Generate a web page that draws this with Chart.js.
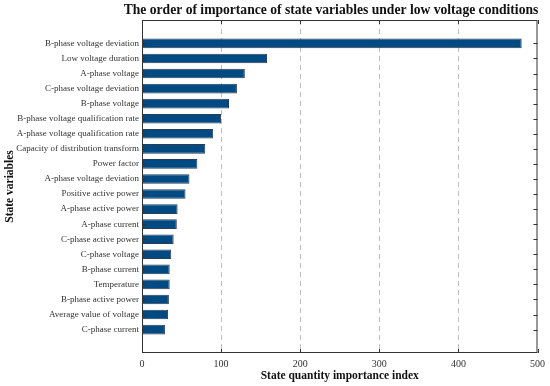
<!DOCTYPE html>
<html>
<head>
<meta charset="utf-8">
<script src="https://cdn.jsdelivr.net/npm/chart.js@4/dist/chart.umd.min.js"></script>
<style>
  html, body { margin: 0; padding: 0; background: #fff; }
  #wrap { width: 550px; height: 386px; }
</style>
</head>
<body>
<div id="wrap"><canvas id="chart" width="550" height="386"></canvas></div>
<script>
// state variables, top to bottom
const variables = [
    "B-phase voltage deviation",
    "Low voltage duration",
    "A-phase voltage",
    "C-phase voltage deviation",
    "B-phase voltage",
    "B-phase voltage qualification rate",
    "A-phase voltage qualification rate",
    "Capacity of distribution transform",
    "Power factor",
    "A-phase voltage deviation",
    "Positive active power",
    "A-phase active power",
    "A-phase current",
    "C-phase active power",
    "C-phase voltage",
    "B-phase current",
    "Temperature",
    "B-phase active power",
    "Average value of voltage",
    "C-phase current"
]
const importance = [480, 158, 130, 120, 110, 100, 90, 80, 70, 60, 55, 45, 44, 40, 37, 35, 35, 34, 33, 29]
const xTicks = [0, 100, 200, 300, 400, 500]

const serif = "'Liberation Serif', 'DejaVu Serif', serif"

// position 1..n on a linear axis so there is a full slot of room at both ends
const points = importance.map((v, i) => ({ x: v, y: i + 1 }))

// box round the plot, with small inward ticks (matlab look)
const boxPlugin = {
    id: 'box',
    afterDraw(chart) {
        const { ctx, chartArea: a, scales } = chart
        ctx.save()
        ctx.strokeStyle = '#333'
        ctx.lineWidth = 1
        ctx.strokeRect(a.left + 0.5, a.top + 0.5, a.right - a.left - 1, a.bottom - a.top - 1)
        ctx.beginPath()
        for (let i = 1; i <= variables.length; i++) {
            const y = Math.round(scales.y.getPixelForValue(i)) + 0.5
            ctx.moveTo(a.left, y); ctx.lineTo(a.left + 4, y)
            ctx.moveTo(a.right, y); ctx.lineTo(a.right - 4, y)
        }
        xTicks.forEach(t => {
            const x = Math.round(scales.x.getPixelForValue(t)) + 0.5
            ctx.moveTo(x, a.bottom); ctx.lineTo(x, a.bottom - 4)
            ctx.moveTo(x, a.top); ctx.lineTo(x, a.top + 4)
        })
        ctx.stroke()

        // title over the plot
        ctx.fillStyle = '#111'
        ctx.font = "bold 13.6px " + serif
        ctx.textAlign = 'center'
        ctx.textBaseline = 'middle'
        ctx.fillText("The order of importance of state variables under low voltage conditions", 331, 10)
        ctx.restore()
    }
}

new Chart(document.getElementById('chart'), {
    type: 'bar',
    data: {
        datasets: [{
            data: points,
            backgroundColor: '#004a84',
            borderColor: '#2a3d52',
            borderWidth: 1,
            barPercentage: 0.64,
            categoryPercentage: 1
        }]
    },
    options: {
        indexAxis: 'y',
        responsive: false,
        animation: false,
        layout: { padding: { left: 0, right: 11, top: 20, bottom: 0 } },
        plugins: {
            legend: { display: false },
            tooltip: { enabled: false }
        },
        scales: {
            x: {
                type: 'linear',
                min: 0,
                max: 500,
                afterBuildTicks: (scale) => { scale.ticks = xTicks.map(v => ({ value: v })) },
                afterFit: (scale) => { scale.height = 33 },
                border: { display: true, color: 'rgba(0,0,0,0)', dash: [5, 4] },
                grid: {
                    color: (c) => (c.tick && (c.tick.value === 0 || c.tick.value === 500)) ? 'rgba(0,0,0,0)' : '#bdbdbd',
                    lineWidth: 1,
                    drawTicks: false
                },
                ticks: {
                    color: '#333',
                    padding: 5,
                    font: { family: serif, size: 10 }
                },
                title: {
                    display: true,
                    text: 'State quantity importance index',
                    color: '#111',
                    padding: { top: 0, bottom: 3 },
                    font: { family: serif, size: 11.5, weight: 'bold' }
                }
            },
            y: {
                type: 'linear',
                reverse: true,
                min: 0,
                max: variables.length + 1,
                afterBuildTicks: (scale) => { scale.ticks = variables.map((_, i) => ({ value: i + 1 })) },
                afterFit: (scale) => { scale.width = 142 },
                border: { display: false },
                grid: { display: false, drawTicks: false },
                ticks: {
                    color: '#333',
                    padding: 3,
                    autoSkip: false,
                    font: { family: serif, size: 9 },
                    callback: (v) => variables[v - 1] || ''
                },
                title: {
                    display: true,
                    text: 'State variables',
                    color: '#111',
                    padding: { top: 3, bottom: 0 },
                    font: { family: serif, size: 11.5, weight: 'bold' }
                }
            }
        }
    },
    plugins: [boxPlugin]
})
</script>
</body>
</html>
